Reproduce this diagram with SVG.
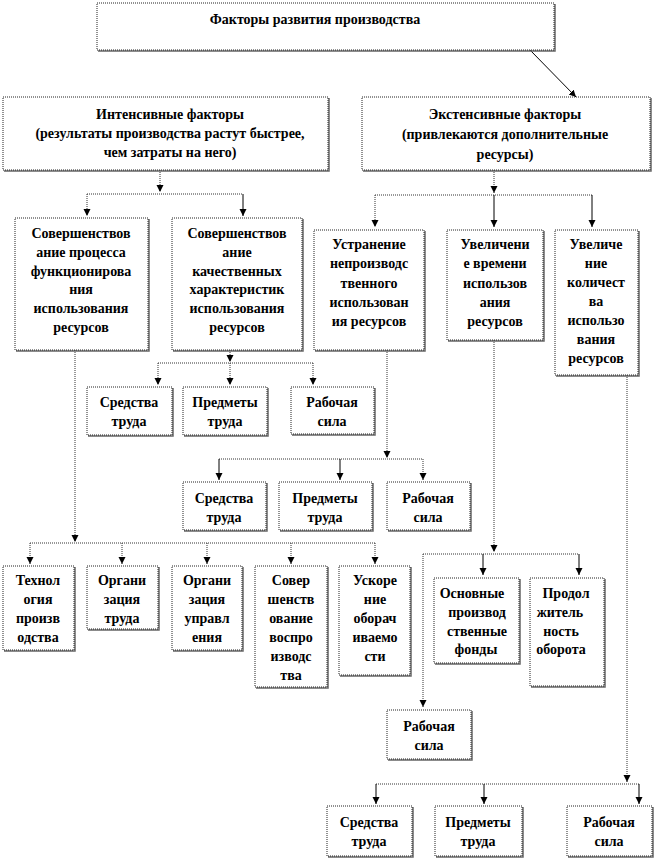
<svg xmlns="http://www.w3.org/2000/svg" width="654" height="867" viewBox="0 0 654 867">
<style>
.bx{fill:#fff;stroke:#222;stroke-width:1;stroke-dasharray:1 1}
.sh{fill:none;stroke:#666;stroke-width:1.5}
.t{font-family:"Liberation Serif","Times New Roman",serif;font-weight:bold;font-size:14px;text-anchor:middle;fill:#000}
.d{stroke:#333;stroke-width:1;stroke-dasharray:1 1;fill:none}
.s{stroke:#000;stroke-width:1;fill:none}
</style>
<defs>
<marker id="ar" markerUnits="userSpaceOnUse" markerWidth="8" markerHeight="8" refX="7" refY="3.5" orient="auto">
<path d="M0,0 L7,3.5 L0,7 z" fill="#000"/>
</marker>
</defs>
<rect width="654" height="867" fill="#fff"/>

<g id="connectors">
<line class="s" x1="530" y1="50" x2="576" y2="97" marker-end="url(#ar)"/>
<!-- intensive -->
<line class="d" x1="160" y1="170" x2="160" y2="192" marker-end="url(#ar)"/>
<line class="d" x1="87" y1="194" x2="243" y2="194"/>
<line class="d" x1="87" y1="194" x2="87" y2="216" marker-end="url(#ar)"/>
<line class="s" x1="243" y1="194" x2="243" y2="216" marker-end="url(#ar)"/>
<!-- extensive -->
<line class="d" x1="494" y1="170" x2="494" y2="193" marker-end="url(#ar)"/>
<line class="d" x1="375" y1="195" x2="592" y2="195"/>
<line class="d" x1="375" y1="195" x2="375" y2="227" marker-end="url(#ar)"/>
<line class="s" x1="494" y1="195" x2="494" y2="227" marker-end="url(#ar)"/>
<line class="s" x1="592" y1="195" x2="592" y2="227" marker-end="url(#ar)"/>
<!-- B children -->
<line class="d" x1="230" y1="350" x2="230" y2="362" marker-end="url(#ar)"/>
<line class="d" x1="158" y1="363" x2="313" y2="363"/>
<line class="d" x1="158" y1="363" x2="158" y2="385" marker-end="url(#ar)"/>
<line class="d" x1="230" y1="363" x2="230" y2="385" marker-end="url(#ar)"/>
<line class="d" x1="313" y1="363" x2="313" y2="385" marker-end="url(#ar)"/>
<!-- C children -->
<line class="d" x1="387" y1="350" x2="387" y2="458" marker-end="url(#ar)"/>
<line class="d" x1="219" y1="459" x2="423" y2="459"/>
<line class="s" x1="219" y1="459" x2="219" y2="480" marker-end="url(#ar)"/>
<line class="s" x1="340" y1="459" x2="340" y2="480" marker-end="url(#ar)"/>
<line class="d" x1="423" y1="459" x2="423" y2="480" marker-end="url(#ar)"/>
<!-- A children -->
<line class="d" x1="75" y1="350" x2="75" y2="542" marker-end="url(#ar)"/>
<line class="d" x1="30" y1="543" x2="375" y2="543"/>
<line class="d" x1="30" y1="543" x2="30" y2="564" marker-end="url(#ar)"/>
<line class="d" x1="122" y1="543" x2="122" y2="564" marker-end="url(#ar)"/>
<line class="d" x1="207" y1="543" x2="207" y2="564" marker-end="url(#ar)"/>
<line class="d" x1="291" y1="543" x2="291" y2="564" marker-end="url(#ar)"/>
<line class="d" x1="375" y1="543" x2="375" y2="564" marker-end="url(#ar)"/>
<!-- D children -->
<line class="d" x1="494" y1="340" x2="494" y2="552" marker-end="url(#ar)"/>
<line class="d" x1="423" y1="554" x2="579" y2="554"/>
<line class="s" x1="483" y1="554" x2="483" y2="575" marker-end="url(#ar)"/>
<line class="s" x1="579" y1="554" x2="579" y2="575" marker-end="url(#ar)"/>
<line class="d" x1="423" y1="554" x2="423" y2="707" marker-end="url(#ar)"/>
<!-- E children -->
<line class="d" x1="627" y1="375" x2="627" y2="782" marker-end="url(#ar)"/>
<line class="d" x1="376" y1="784" x2="639" y2="784"/>
<line class="s" x1="376" y1="784" x2="376" y2="804" marker-end="url(#ar)"/>
<line class="s" x1="484" y1="784" x2="484" y2="804" marker-end="url(#ar)"/>
<line class="s" x1="639" y1="784" x2="639" y2="804" marker-end="url(#ar)"/>
</g>

<g id="n_top">
<polyline class="sh" points="555,4 555,51 98,51"/>
<rect class="bx" x="97" y="3" width="457" height="47"/>
<text class="t" x="315" y="24">Факторы развития производства</text>
</g>

<g id="n_int">
<polyline class="sh" points="329,98 329,171 4,171"/>
<rect class="bx" x="3" y="97" width="325" height="73"/>
<text class="t" x="170" y="119">Интенсивные факторы</text>
<text class="t" x="170" y="138">(результаты  производства растут быстрее,</text>
<text class="t" x="170" y="157">чем затраты на него)</text>
</g>

<g id="n_ext">
<polyline class="sh" points="651,98 651,171 363,171"/>
<rect class="bx" x="362" y="97" width="288" height="73"/>
<text class="t" x="505" y="119">Экстенсивные факторы</text>
<text class="t" x="505" y="139">(привлекаются дополнительные</text>
<text class="t" x="505" y="159">ресурсы)</text>
</g>

<g id="n_a">
<polyline class="sh" points="149,219 149,351 16,351"/>
<rect class="bx" x="15" y="218" width="133" height="132"/>
<text class="t" x="81" y="238">Совершенствов</text>
<text class="t" x="81" y="257">ание процесса</text>
<text class="t" x="81" y="276">функционирова</text>
<text class="t" x="81" y="294">ния</text>
<text class="t" x="81" y="313">использования</text>
<text class="t" x="81" y="332">ресурсов</text>
</g>

<g id="n_b">
<polyline class="sh" points="303,219 303,351 173,351"/>
<rect class="bx" x="172" y="218" width="130" height="132"/>
<text class="t" x="237" y="238">Совершенствов</text>
<text class="t" x="237" y="257">ание</text>
<text class="t" x="237" y="276">качественных</text>
<text class="t" x="237" y="294">характеристик</text>
<text class="t" x="237" y="313">использования</text>
<text class="t" x="237" y="332">ресурсов</text>
</g>

<g id="n_c">
<polyline class="sh" points="425,231 425,351 315,351"/>
<rect class="bx" x="314" y="230" width="110" height="120"/>
<text class="t" x="369" y="249">Устранение</text>
<text class="t" x="369" y="268">непроизводс</text>
<text class="t" x="369" y="288">твенного</text>
<text class="t" x="369" y="307">использован</text>
<text class="t" x="369" y="326">ия ресурсов</text>
</g>

<g id="n_d">
<polyline class="sh" points="544,231 544,341 448,341"/>
<rect class="bx" x="447" y="230" width="96" height="110"/>
<text class="t" x="495" y="249">Увеличени</text>
<text class="t" x="495" y="268">е времени</text>
<text class="t" x="495" y="288">использов</text>
<text class="t" x="495" y="307">ания</text>
<text class="t" x="495" y="326">ресурсов</text>
</g>

<g id="n_e">
<polyline class="sh" points="639,231 639,376 556,376"/>
<rect class="bx" x="555" y="230" width="83" height="145"/>
<text class="t" x="596" y="249">Увеличе</text>
<text class="t" x="596" y="268">ние</text>
<text class="t" x="596" y="287">количест</text>
<text class="t" x="596" y="306">ва</text>
<text class="t" x="596" y="325">использо</text>
<text class="t" x="596" y="344">вания</text>
<text class="t" x="596" y="363">ресурсов</text>
</g>

<g id="n_b1">
<polyline class="sh" points="173,388 173,436 88,436"/>
<rect class="bx" x="87" y="387" width="85" height="48"/>
<text class="t" x="129" y="407">Средства</text>
<text class="t" x="129" y="426">труда</text>
</g>
<g id="n_b2">
<polyline class="sh" points="268,388 268,436 184,436"/>
<rect class="bx" x="183" y="387" width="84" height="48"/>
<text class="t" x="225" y="407">Предметы</text>
<text class="t" x="225" y="426">труда</text>
</g>
<g id="n_b3">
<polyline class="sh" points="375,388 375,435 292,435"/>
<rect class="bx" x="291" y="387" width="83" height="47"/>
<text class="t" x="332" y="407">Рабочая</text>
<text class="t" x="332" y="426">сила</text>
</g>

<g id="n_c1">
<polyline class="sh" points="267,483 267,531 184,531"/>
<rect class="bx" x="183" y="482" width="83" height="48"/>
<text class="t" x="224" y="503">Средства</text>
<text class="t" x="224" y="522">труда</text>
</g>
<g id="n_c2">
<polyline class="sh" points="373,483 373,531 280,531"/>
<rect class="bx" x="279" y="482" width="93" height="48"/>
<text class="t" x="325" y="503">Предметы</text>
<text class="t" x="325" y="522">труда</text>
</g>
<g id="n_c3">
<polyline class="sh" points="471,483 471,531 388,531"/>
<rect class="bx" x="387" y="482" width="83" height="48"/>
<text class="t" x="428" y="503">Рабочая</text>
<text class="t" x="428" y="522">сила</text>
</g>

<g id="n_a1">
<polyline class="sh" points="75,567 75,651 4,651"/>
<rect class="bx" x="3" y="566" width="71" height="84"/>
<text class="t" x="38" y="585">Технол</text>
<text class="t" x="38" y="604">огия</text>
<text class="t" x="38" y="623">произв</text>
<text class="t" x="38" y="642">одства</text>
</g>
<g id="n_a2">
<polyline class="sh" points="159,567 159,630 88,630"/>
<rect class="bx" x="87" y="566" width="71" height="63"/>
<text class="t" x="122" y="585">Органи</text>
<text class="t" x="122" y="604">зация</text>
<text class="t" x="122" y="623">труда</text>
</g>
<g id="n_a3">
<polyline class="sh" points="243,567 243,651 173,651"/>
<rect class="bx" x="172" y="566" width="70" height="84"/>
<text class="t" x="207" y="585">Органи</text>
<text class="t" x="207" y="604">зация</text>
<text class="t" x="207" y="623">управл</text>
<text class="t" x="207" y="642">ения</text>
</g>
<g id="n_a4">
<polyline class="sh" points="328,567 328,688 256,688"/>
<rect class="bx" x="255" y="566" width="72" height="121"/>
<text class="t" x="291" y="585">Совер</text>
<text class="t" x="291" y="604">шенств</text>
<text class="t" x="291" y="623">ование</text>
<text class="t" x="291" y="642">воспро</text>
<text class="t" x="291" y="661">изводс</text>
<text class="t" x="291" y="680">тва</text>
</g>
<g id="n_a5">
<polyline class="sh" points="411,567 411,676 340,676"/>
<rect class="bx" x="339" y="566" width="71" height="109"/>
<text class="t" x="375" y="585">Ускоре</text>
<text class="t" x="375" y="604">ние</text>
<text class="t" x="375" y="623">оборач</text>
<text class="t" x="375" y="642">иваемо</text>
<text class="t" x="375" y="661">сти</text>
</g>

<g id="n_d1">
<polyline class="sh" points="520,579 520,664 435,664"/>
<rect class="bx" x="434" y="578" width="85" height="85"/>
<text class="t" x="472" y="598">Основные</text>
<text class="t" x="477" y="617">производ</text>
<text class="t" x="477" y="636">ственные</text>
<text class="t" x="476" y="654">фонды</text>
</g>
<g id="n_d2">
<polyline class="sh" points="605,579 605,687 531,687"/>
<rect class="bx" x="530" y="578" width="74" height="108"/>
<text class="t" x="566" y="598">Продол</text>
<text class="t" x="560" y="617">житель</text>
<text class="t" x="561" y="636">ность</text>
<text class="t" x="561" y="654">оборота</text>
</g>
<g id="n_d3">
<polyline class="sh" points="472,711 472,760 388,760"/>
<rect class="bx" x="387" y="710" width="84" height="49"/>
<text class="t" x="429" y="731">Рабочая</text>
<text class="t" x="429" y="750">сила</text>
</g>

<g id="n_e1">
<polyline class="sh" points="413,807 413,857 328,857"/>
<rect class="bx" x="327" y="806" width="85" height="50"/>
<text class="t" x="369" y="827">Средства</text>
<text class="t" x="369" y="846">труда</text>
</g>
<g id="n_e2">
<polyline class="sh" points="523,807 523,857 436,857"/>
<rect class="bx" x="435" y="806" width="87" height="50"/>
<text class="t" x="478" y="827">Предметы</text>
<text class="t" x="478" y="846">труда</text>
</g>
<g id="n_e3">
<polyline class="sh" points="653,807 653,857 568,857"/>
<rect class="bx" x="567" y="806" width="85" height="50"/>
<text class="t" x="609" y="827">Рабочая</text>
<text class="t" x="609" y="846">сила</text>
</g>
</svg>
